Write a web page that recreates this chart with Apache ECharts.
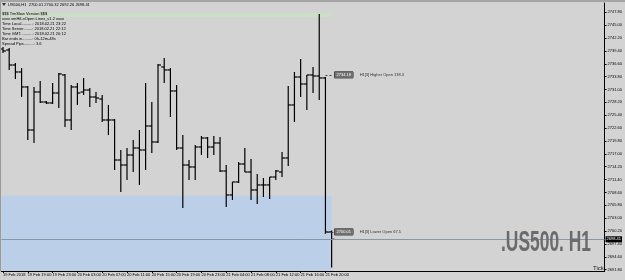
<!DOCTYPE html>
<html><head><meta charset="utf-8">
<script src="https://cdn.jsdelivr.net/npm/echarts@6/dist/echarts.min.js"></script>
<style>html,body{margin:0;padding:0;background:#d3d3d3;}#c{width:625px;height:280px;}</style>
</head><body><div id="c"></div>
<script>
// ---- data (US500, H1 bars) ----
const barOpen  = [2739.81,2739.60,2736.33,2734.81,2731.55,2722.19,2730.46,2728.28,2728.07,2730.24,
                  2734.16,2724.37,2731.55,2730.46,2730.89,2729.37,2728.93,2724.37,2724.37,2715.66,
                  2714.57,2716.75,2718.27,2717.84,2723.06,2719.58,2735.90,2735.25,2730.68,2718.27,
                  2714.57,2714.14,2718.49,2720.45,2718.49,2719.36,2713.27,2708.05,2710.88,2714.79,
                  2713.05,2709.14,2710.23,2710.23,2711.96,2713.05,2716.10,2727.63,2733.72,2732.20,
                  2734.16,2733.94,2733.51,2700.01];
const barHigh  = [2740.25,2740.03,2736.77,2735.68,2731.76,2731.55,2732.85,2728.50,2732.42,2734.59,
                  2734.38,2731.98,2732.42,2733.51,2731.33,2730.46,2729.81,2727.63,2724.58,2717.84,
                  2718.27,2720.02,2722.19,2732.42,2728.28,2736.55,2737.86,2735.68,2731.98,2721.10,
                  2715.66,2718.93,2720.88,2720.67,2720.88,2720.67,2714.57,2710.88,2715.23,2718.27,
                  2715.88,2712.62,2711.75,2711.96,2713.49,2717.40,2731.76,2734.81,2737.64,2734.16,
                  2735.90,2747.43,2733.72,2700.32];
const barLow   = [2738.94,2735.25,2733.29,2729.37,2720.02,2719.36,2728.07,2727.85,2727.85,2726.98,
                  2722.84,2722.19,2727.63,2729.81,2727.19,2728.07,2723.93,2721.10,2713.49,2708.70,
                  2711.31,2713.05,2710.23,2713.49,2717.19,2719.36,2732.42,2725.02,2717.84,2705.22,
                  2711.31,2711.31,2716.75,2716.10,2716.75,2713.05,2705.44,2706.96,2710.66,2713.05,
                  2706.96,2706.09,2707.62,2707.18,2711.31,2711.96,2714.36,2723.93,2729.37,2726.54,
                  2730.24,2728.72,2699.60,2692.26];
const barClose = [2739.38,2736.33,2734.81,2731.55,2722.19,2730.46,2728.28,2728.07,2730.24,2734.38,
                  2724.37,2731.55,2730.24,2730.89,2729.37,2729.15,2724.37,2724.37,2715.66,2714.57,
                  2716.75,2718.27,2717.84,2723.06,2719.58,2736.33,2735.25,2730.68,2718.27,2714.57,
                  2714.14,2718.49,2720.45,2718.49,2719.36,2713.27,2708.05,2710.88,2714.79,2713.05,
                  2709.14,2710.23,2710.23,2711.96,2713.27,2716.10,2727.63,2733.72,2732.20,2734.16,
                  2733.94,2733.51,2700.00,2698.41];
const xTickBars   = [0,4,8,12,16,20,24,28,32,36,40,44,48,52];
const xTickLabels = ['19 Feb 2018','19 Feb 19:00','19 Feb 23:00','20 Feb 03:00','20 Feb 07:00','20 Feb 11:00',
                     '20 Feb 15:00','20 Feb 19:00','20 Feb 23:00','21 Feb 04:00','21 Feb 08:00','21 Feb 12:00',
                     '21 Feb 16:00','21 Feb 20:00'];
const yTicks = [2747.80,2745.00,2742.20,2739.40,2736.60,2733.80,2731.00,2728.20,2725.40,2722.60,2719.80,
                2717.00,2714.20,2711.40,2708.60,2705.80,2703.00,2700.20,2697.40,2694.60,2691.80];
const lastPrice   = 2698.41;
const higherOpen  = 2734.18, higherOpenText = 'H1[3] Higher Open 138.3';
const lowerOpen   = 2700.01, lowerOpenText  = 'H1[3] Lower Open 67.5';
const blueZone    = [2691.51, 2707.90];
const greenBand   = [2746.80, 2747.70];
const titleText   = 'US500,H1  2700.01 2700.32 2692.26 2698.41';
const infoLines   = ['$$$ TimSlow Version $$$','xxxx smHiLoOpen Lines_v1.2 xxxx',
                     'Time Local..........: 2018.02.21 23:22','Time Server........: 2018.02.21 22:12',
                     'Time GMT...........: 2018.02.21 20:12','Bar ends in.........: 0h-12m-48s',
                     'Spread Pips.........: 3.6'];
const watermark   = '.US500. H1';

// ---- chart ----
const bars = barOpen.map((o,i)=>[i,o,barHigh[i],barLow[i],barClose[i]]);
const chart = echarts.init(document.getElementById('c'), null, {renderer:'canvas'});
const FONT = 'Liberation Sans';
const infoGraphics = infoLines.map((t,i)=>({
  type:'text', left:2, top:12 + i*5, z:20,
  style:{text:t, fill:'#000', font:'4px "'+FONT+'"'}
}));
chart.setOption({
  backgroundColor:'#d3d3d3',
  animation:false,
  grid:{left:0, top:3, width:608, height:268},
  xAxis:{type:'value', min:-0.27, max:97.01,
    splitLine:{show:false},
    axisLine:{onZero:false, lineStyle:{color:'#000',width:1}},
    axisTick:{customValues:xTickBars, length:2, lineStyle:{color:'#000'}},
    axisLabel:{customValues:xTickBars, fontSize:4, fontFamily:FONT, color:'#000', margin:2, align:'left',
      formatter:v=>{const k=xTickBars.indexOf(Math.round(v)); return k>=0?xTickLabels[k]:'';}}
  },
  yAxis:{type:'value', position:'right', min:2691.51, max:2749.82, scale:true,
    splitLine:{show:false},
    axisLine:{show:true, onZero:false, lineStyle:{color:'#000',width:1}},
    axisTick:{show:true, customValues:yTicks, length:2, lineStyle:{color:'#000'}},
    axisLabel:{customValues:yTicks, fontSize:4, fontFamily:FONT, color:'#000', margin:3,
      formatter:v=>v.toFixed(2)}
  },
  graphic:[
    {type:'rect', shape:{x:0,y:0,width:625,height:2}, style:{fill:'#a4a4a4'}, z:20},
    {type:'line', shape:{x1:0.5,y1:2,x2:0.5,y2:271}, style:{stroke:'#9a9a9a',lineWidth:1}, z:20},
    {type:'polygon', shape:{points:[[2,3],[6,3],[4,6]]}, style:{fill:'#333'}, z:20},
    {type:'text', left:8, top:2.5, z:20, style:{text:titleText, fill:'#000', font:'4px "'+FONT+'"'}},
    ...infoGraphics,
    {type:'text', x:546, y:243, scaleX:0.6, z:20,
      style:{text:watermark, fill:'#6b6b6b', font:'bold 29px "'+FONT+'"', align:'center', verticalAlign:'middle'}},
    {type:'text', x:593, y:265, z:20, style:{text:'Tick', fill:'#222', font:'6px "'+FONT+'"'}}
  ],
  series:[{
    type:'custom',
    data:bars,
    encode:{x:0, y:[1,2,3,4]},
    clip:true,
    renderItem:(params, api)=>{
      const x=api.value(0);
      const pO=api.coord([x,api.value(1)]), pH=api.coord([x,api.value(2)]);
      const pL=api.coord([x,api.value(3)]), pC=api.coord([x,api.value(4)]);
      const st={stroke:'#000', lineWidth:1.2};
      return {type:'group', children:[
        {type:'line', shape:{x1:pH[0],y1:pH[1],x2:pL[0],y2:pL[1]}, style:st},
        {type:'line', shape:{x1:pO[0]-3,y1:pO[1],x2:pO[0],y2:pO[1]}, style:st},
        {type:'line', shape:{x1:pC[0],y1:pC[1],x2:pC[0]+3,y2:pC[1]}, style:st}
      ]};
    },
    markArea:{silent:true, z:1, data:[
      [{xAxis:-0.27, yAxis:blueZone[0], itemStyle:{color:'#bbd0e8'}},{xAxis:53.0, yAxis:blueZone[1]}],
      [{xAxis:-0.27, yAxis:greenBand[0], itemStyle:{color:'#cbdfc6'}},{xAxis:53.0, yAxis:greenBand[1]}]
    ]},
    markLine:{silent:true, symbol:['none','none'], animation:false, data:[
      {yAxis:lastPrice, lineStyle:{color:'#8797a8', width:1, type:'solid'},
        label:{show:true, position:'end', distance:1, formatter:p=>p.value.toFixed(2),
          backgroundColor:'#000', color:'#fff', fontSize:4, fontFamily:FONT, padding:[1,1]}},
      [{coord:[52.0, higherOpen], lineStyle:{color:'#444', width:1, type:[2,2]},
         label:{show:true, position:'end', distance:1,
           formatter:()=>'{b|'+higherOpen.toFixed(2)+'}  {t|'+higherOpenText+'}',
           rich:{b:{backgroundColor:'#6f6f6f', borderColor:'#222', borderWidth:0.5, color:'#fff', fontSize:4, fontFamily:FONT, padding:[1,2]},
                 t:{color:'#333', fontSize:4, fontFamily:FONT}}}},
       {coord:[53.3, higherOpen]}],
      [{coord:[52.3, lowerOpen], lineStyle:{color:'#444', width:1, type:[2,2]},
         label:{show:true, position:'end', distance:1,
           formatter:()=>'{b|'+lowerOpen.toFixed(2)+'}  {t|'+lowerOpenText+'}',
           rich:{b:{backgroundColor:'#6f6f6f', borderColor:'#222', borderWidth:0.5, color:'#fff', fontSize:4, fontFamily:FONT, padding:[1,2]},
                 t:{color:'#333', fontSize:4, fontFamily:FONT}}}},
       {coord:[53.3, lowerOpen]}]
    ]}
  }]
});
</script>
</body></html>
